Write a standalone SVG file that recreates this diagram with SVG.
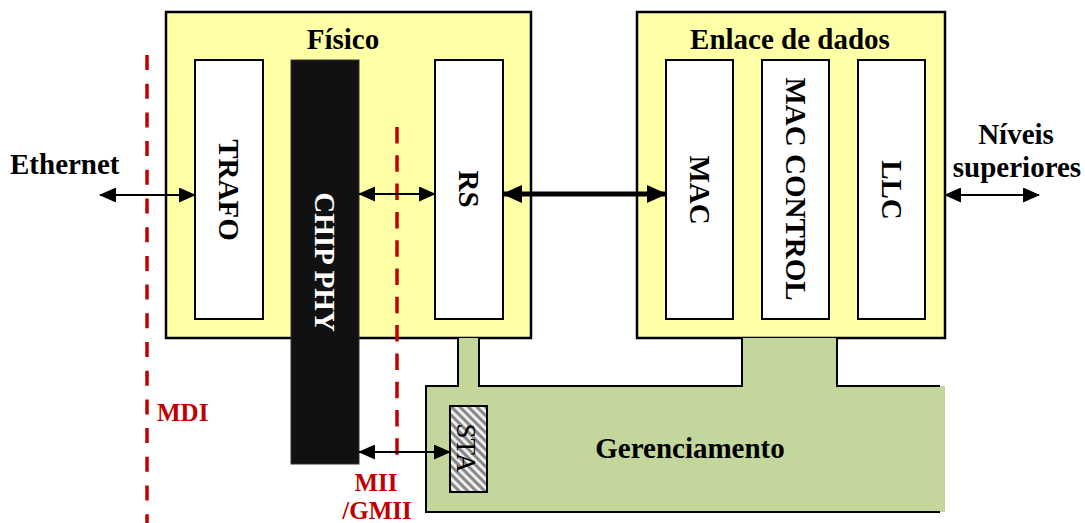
<svg xmlns="http://www.w3.org/2000/svg" width="1085" height="523" viewBox="0 0 1085 523">
<defs>
<style>
.t{font-family:"Liberation Serif","Times New Roman",serif;font-weight:bold;font-size:29px;fill:#000}
.red{font-family:"Liberation Serif","Times New Roman",serif;font-weight:bold;font-size:25px;fill:#C00000}
.box{fill:#FFFFA5;stroke:#000;stroke-width:2.5}
.inner{fill:#fff;stroke:#000;stroke-width:2}
.dash{stroke:#C00000;stroke-width:3.5;fill:none}
.thin{stroke:#000;stroke-width:2;fill:none}
.thick{stroke:#000;stroke-width:5;fill:none}
</style>
<marker id="ah" markerUnits="userSpaceOnUse" markerWidth="17" markerHeight="15" refX="16" refY="7.5" orient="auto-start-reverse" viewBox="0 0 17 15">
<path d="M0,0 L17,7.5 L0,15 z" fill="#000"/>
</marker>
<marker id="ahT" markerUnits="userSpaceOnUse" markerWidth="20" markerHeight="18" refX="19" refY="9" orient="auto-start-reverse" viewBox="0 0 20 18">
<path d="M0,0 L20,9 L0,18 z" fill="#000"/>
</marker>
<pattern id="hatch" patternUnits="userSpaceOnUse" width="6" height="6" patternTransform="rotate(-45)">
<rect width="6" height="6" fill="#eee"/>
<rect width="3" height="6" fill="#888"/>
</pattern>
</defs>

<g id="fisico">
<rect class="box" x="166" y="12" width="365" height="326"/>
<text class="t" x="343" y="49" text-anchor="middle">Físico</text>
</g>

<g id="enlace">
<rect class="box" x="637" y="12" width="308" height="326"/>
<text class="t" x="790" y="49" text-anchor="middle">Enlace de dados</text>
</g>

<g id="trafo">
<rect class="inner" x="195" y="60" width="68" height="259"/>
<text class="t" transform="translate(229,190) rotate(90)" x="0" y="9.6" text-anchor="middle">TRAFO</text>
</g>

<g id="rs">
<rect class="inner" x="435" y="60" width="68" height="259"/>
<text class="t" transform="translate(469,189) rotate(90)" x="0" y="9.6" text-anchor="middle">RS</text>
</g>

<g id="mac">
<rect class="inner" x="666" y="60" width="67" height="259"/>
<text class="t" transform="translate(699.5,190) rotate(90)" x="0" y="9.6" text-anchor="middle">MAC</text>
</g>

<g id="maccontrol">
<rect class="inner" x="762" y="60" width="67" height="259"/>
<text class="t" transform="translate(795.5,189) rotate(90)" x="0" y="9.6" text-anchor="middle">MAC CONTROL</text>
</g>

<g id="llc">
<rect class="inner" x="858" y="60" width="67" height="259"/>
<text class="t" transform="translate(891.5,190) rotate(90)" x="0" y="9.6" text-anchor="middle">LLC</text>
</g>

<g id="gerenciamento">
<path d="M458,338 L479,338 L479,386 L742,386 L742,338 L837,338 L837,386 L945,386 L945,512 L426,512 L426,386 L458,386 Z" fill="#C3D69B"/>
<path d="M940,386 L837,386 L837,338 M742,338 L742,386 L479,386 L479,338 M458,338 L458,386 L426,386 L426,512 L940,512" fill="none" stroke="#000" stroke-width="2"/>
<text class="t" x="690" y="458" text-anchor="middle">Gerenciamento</text>
</g>

<g id="sta">
<rect x="450" y="406" width="37" height="86" fill="url(#hatch)" stroke="#000" stroke-width="2"/>
<text transform="translate(466,448) rotate(90)" x="0" y="9" text-anchor="middle" font-family="Liberation Serif, Times New Roman, serif" font-size="27" fill="#000">STA</text>
</g>

<g id="chipphy">
<rect x="291" y="60" width="68" height="404" fill="#111" stroke="#333" stroke-width="1"/>
<text class="t" transform="translate(325,262) rotate(90)" x="0" y="9.6" text-anchor="middle" style="fill:#fff">CHIP PHY</text>
</g>

<g id="labels">
<text class="t" x="10" y="174">Ethernet</text>
<text class="t" x="1016" y="144" text-anchor="middle">Níveis</text>
<text class="t" x="1017" y="177" text-anchor="middle">superiores</text>
<text class="red" x="157" y="421">MDI</text>
<text class="red" x="376" y="491" text-anchor="middle">MII</text>
<text class="red" x="377" y="519" text-anchor="middle">/GMII</text>
</g>

<g id="connectors">
<line class="dash" x1="147" y1="55" x2="147" y2="523" stroke-dasharray="15 13.7"/>
<line class="dash" x1="397" y1="127" x2="397" y2="466" stroke-dasharray="16.5 11.8"/>
<line class="thin" x1="100" y1="195" x2="195" y2="195" marker-start="url(#ah)" marker-end="url(#ah)"/>
<line class="thin" x1="359" y1="194" x2="435" y2="194" marker-start="url(#ah)" marker-end="url(#ah)"/>
<line class="thick" x1="503" y1="194" x2="666" y2="194" marker-start="url(#ahT)" marker-end="url(#ahT)"/>
<line class="thin" x1="945" y1="195" x2="1039" y2="195" marker-start="url(#ah)" marker-end="url(#ah)"/>
<line class="thin" x1="359" y1="452" x2="450" y2="452" marker-start="url(#ah)" marker-end="url(#ah)"/>
</g>
</svg>
